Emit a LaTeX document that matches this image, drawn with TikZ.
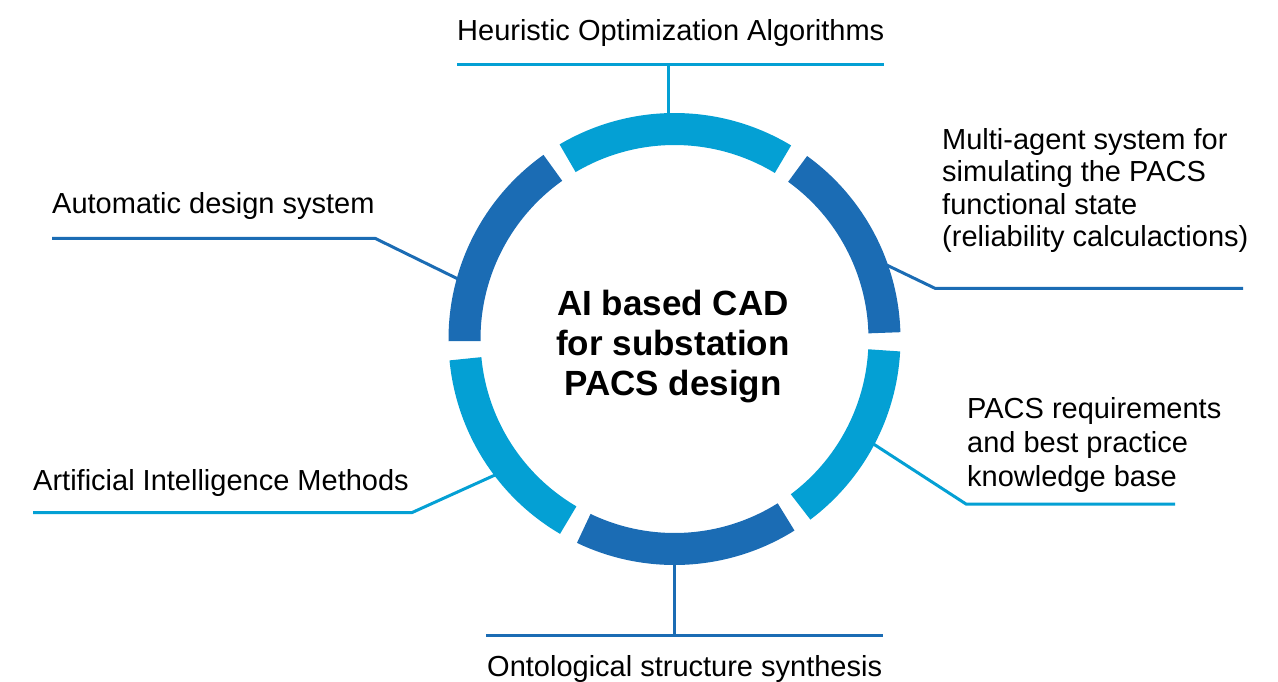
\documentclass[tikz,border=0pt]{standalone}
\usepackage{fontspec}
\setmainfont{Liberation Sans}
\definecolor{darkblue}{RGB}{27,108,180}
\definecolor{lightblue}{RGB}{4,160,212}
\begin{document}
\begin{tikzpicture}[x=1pt,y=1pt,
  lbl/.style={inner sep=0pt, anchor=base west, font=\fontsize{29}{33}\selectfont, align=left, text=black},
  hubtext/.style={inner sep=0pt, anchor=base, font=\fontsize{35}{40}\selectfont\bfseries, align=center, text=black},
  conn/.style={line width=3pt},
  seg/.style={line width=32pt}]
\useasboundingbox (0,0) rectangle (1278,-681);
\coordinate (c) at (674.5,-339);
% labels (multi-line nodes: base = last line's baseline)
\node[lbl] (heur) at (457,-40) {Heuristic Optimization Algorithms};
\node[lbl] (auto) at (52,-213) {Automatic design system};
\node[lbl, font=\fontsize{29}{32.5}\selectfont] (multi) at (942,-246.7) {Multi-agent system for\\simulating the PACS\\functional state\\(reliability calculactions)};
\node[lbl] (aim) at (33,-490) {Artificial Intelligence Methods};
\node[lbl, font=\fontsize{29}{33.8}\selectfont] (pacs) at (967,-486) {PACS requirements\\and best practice\\knowledge base};
\node[lbl] (onto) at (487,-676) {Ontological structure synthesis};
\node[hubtext] (hub) at (673,-395) {AI based CAD\\for substation\\PACS design};
% connector coordinates
\coordinate (heurL) at (457,-64);
\coordinate (heurR) at (884,-64);
\coordinate (heurM) at (668.7,-64);
\coordinate (heurE) at (668.7,-130);
\coordinate (autoL) at (52,-238.3);
\coordinate (autoK) at (375,-238.3);
\coordinate (autoE) at (475,-287.3);
\coordinate (multiR) at (1243,-288.3);
\coordinate (multiK) at (935,-288.3);
\coordinate (multiE) at (875,-259.4);
\coordinate (aimL) at (33,-512.7);
\coordinate (aimK) at (411.7,-512.7);
\coordinate (aimE) at (505,-470.5);
\coordinate (pacsR) at (1175,-504);
\coordinate (pacsK) at (966,-504);
\coordinate (pacsE) at (865,-438.5);
\coordinate (ontoL) at (486,-635);
\coordinate (ontoR) at (883.3,-635);
\coordinate (ontoM) at (674.3,-635);
\coordinate (ontoE) at (674.3,-550);
% connectors
\draw[conn, lightblue] (heurL) -- (heurR);
\draw[conn, lightblue] (heurM) -- (heurE);
\draw[conn, darkblue] (autoL) -- (autoK) -- (autoE);
\draw[conn, darkblue] (multiR) -- (multiK) -- (multiE);
\draw[conn, lightblue] (aimL) -- (aimK) -- (aimE);
\draw[conn, lightblue] (pacsR) -- (pacsK) -- (pacsE);
\draw[conn, darkblue] (ontoL) -- (ontoR);
\draw[conn, darkblue] (ontoM) -- (ontoE);
% ring segments
\draw[seg, lightblue] ([shift={(58.9:210pt)}]c) arc (58.9:120.6:210pt);
\draw[seg, darkblue] ([shift={(125.4:210pt)}]c) arc (125.4:180.6:210pt);
\draw[seg, lightblue] ([shift={(185.4:210pt)}]c) arc (185.4:239.6:210pt);
\draw[seg, darkblue] ([shift={(244.4:210pt)}]c) arc (244.4:302.1:210pt);
\draw[seg, lightblue] ([shift={(306.9:210pt)}]c) arc (306.9:356.9:210pt);
\draw[seg, darkblue] ([shift={(1.7:210pt)}]c) arc (1.7:54.1:210pt);
\end{tikzpicture}
\end{document}
